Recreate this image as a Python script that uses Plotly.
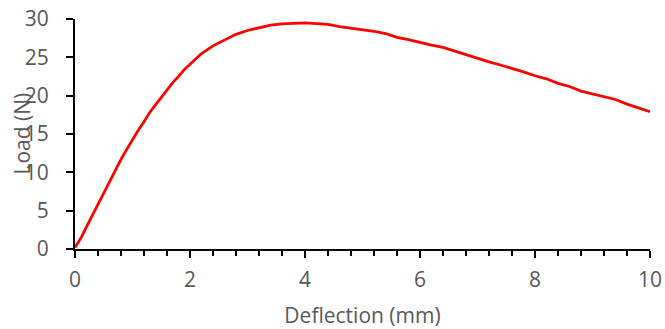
import plotly.graph_objects as go

deflection = [0, 0.1, 0.2, 0.3, 0.4, 0.5, 0.6, 0.7, 0.8, 0.9, 1.0, 1.1, 1.2, 1.3, 1.4, 1.5,
              1.6, 1.7, 1.8, 1.9, 2.0, 2.2, 2.4, 2.6, 2.8, 3.0, 3.2, 3.4, 3.6, 3.8, 4.0,
              4.2, 4.4, 4.6, 4.8, 5.0, 5.2, 5.4, 5.6, 5.8, 6.0, 6.2, 6.4, 6.6, 6.8, 7.0,
              7.2, 7.4, 7.6, 7.8, 8.0, 8.2, 8.4, 8.6, 8.8, 9.0, 9.2, 9.4, 9.6, 9.8, 10.0]
load = [0.2, 1.4, 2.9, 4.4, 5.9, 7.4, 8.8, 10.2, 11.7, 13.0, 14.3, 15.5, 16.6, 17.8, 18.8, 19.8,
        20.8, 21.7, 22.5, 23.4, 24.1, 25.5, 26.5, 27.3, 28.0, 28.5, 28.9, 29.2, 29.35, 29.45, 29.5,
        29.4, 29.3, 29.0, 28.8, 28.6, 28.4, 28.1, 27.6, 27.3, 26.9, 26.6, 26.3, 25.8, 25.4, 24.8,
        24.4, 24.0, 23.6, 23.1, 22.6, 22.2, 21.6, 21.2, 20.6, 20.2, 19.8, 19.5, 18.9, 18.4, 17.9]

x_title = "Deflection (mm)"
y_title = "Load (N)"

FONT = "Open Sans"
GREY = "#595959"
FS = 21

fig = go.Figure()
fig.add_trace(go.Scatter(x=deflection, y=load, mode="lines",
                         line=dict(color="#ff0000", width=2.75), showlegend=False))

fig.update_layout(
    width=665, height=329,
    margin=dict(l=75, r=15, t=19, b=80),
    plot_bgcolor="white", paper_bgcolor="white",
    font=dict(family=FONT, size=FS, color=GREY),
    xaxis=dict(range=[0, 10], dtick=2, tick0=0, showgrid=False, zeroline=False,
               showline=True, linecolor="black", linewidth=2, automargin=False,
               ticks="outside", ticklen=7, tickwidth=2, tickcolor="black",
               ticklabelstandoff=4, ticklabeloverflow="allow",
               minor=dict(dtick=0.4, tick0=0, ticks="outside", ticklen=5,
                          tickwidth=2, tickcolor="black", showgrid=False),
               title=dict(text=x_title, font=dict(family=FONT, size=FS, color=GREY), standoff=27)),
    yaxis=dict(range=[0, 30], dtick=5, tick0=0, showgrid=False, zeroline=False,
               showline=True, linecolor="black", linewidth=2, automargin=False,
               ticks="outside", ticklen=7, tickwidth=2, tickcolor="black",
               ticklabelstandoff=13, ticklabeloverflow="allow"),
    annotations=[dict(text=y_title, textangle=-90, xref="paper", yref="paper",
                      x=-0.093, y=0.5, xanchor="center", yanchor="middle",
                      showarrow=False, font=dict(family=FONT, size=FS, color=GREY))],
)

fig.write_html("out.html", config={"displayModeBar": False},
               post_script="document.body.style.margin='0';document.body.style.overflow='hidden';")
